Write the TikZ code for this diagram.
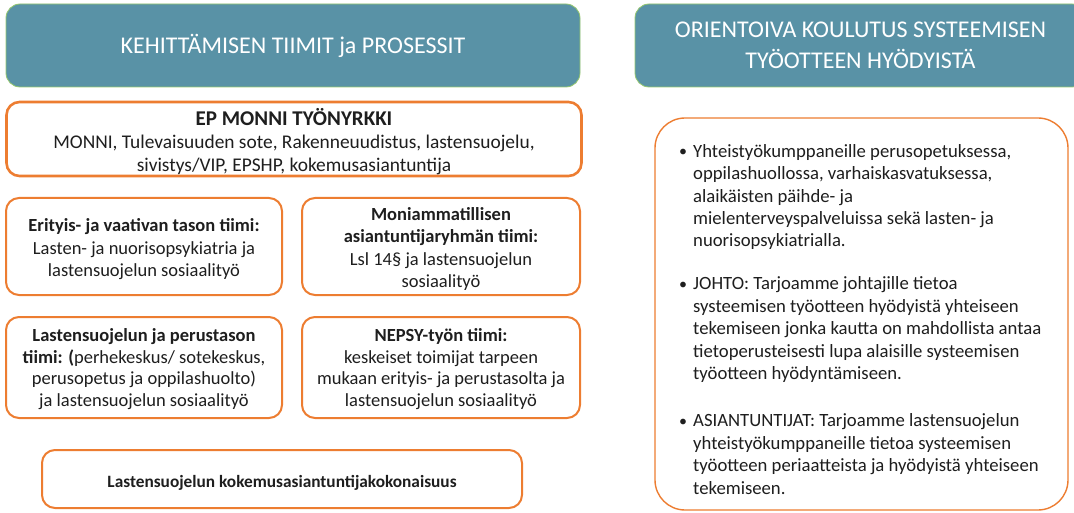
\documentclass[tikz,border=0pt]{standalone}
\usepackage{fontspec}
\setmainfont{Carlito}
\definecolor{hdrteal}{RGB}{89,146,166}
\definecolor{hdrgreen}{RGB}{150,200,110}
\definecolor{orng}{RGB}{237,125,49}
\definecolor{txt}{RGB}{30,30,30}
\newcommand{\upstrut}[1]{\rule{0pt}{#1}}
\newcommand{\bul}{\raisebox{0.5pt}{\fontsize{16}{18}\selectfont\textbullet}}
\tikzset{
  hdr/.style={draw=hdrgreen, line width=0.8pt, fill=hdrteal, rounded corners=14pt,
    text=white, align=center, inner sep=0pt, font=\fontsize{24}{31}\selectfont},
  obox/.style={draw=orng, line width=2pt, fill=white, rounded corners=13pt,
    align=center, inner sep=0pt, text=txt, font=\fontsize{18.5}{22.5}\selectfont},
  btext/.style={anchor=north west, inner sep=0pt, text=txt, align=left,
    font=\fontsize{18.7}{22.4}\selectfont},
}
\begin{document}
\begin{tikzpicture}[x=1pt,y=-1pt]
\useasboundingbox (0,0) rectangle (1074,513);
\clip (0,0) rectangle (1074,513);
% headers
\node[hdr, minimum width=574, minimum height=83] (h1) at (293,45.5)
  {KEHITTÄMISEN TIIMIT ja PROSESSIT};
\node[hdr, minimum width=451, minimum height=83] (h2) at (860.5,45.5)
  {ORIENTOIVA KOULUTUS SYSTEEMISEN\\TYÖOTTEEN HYÖDYISTÄ};
% left boxes
\node[obox, line width=2.6pt, minimum width=575, minimum height=74,
  font=\fontsize{19.4}{22.5}\selectfont] (ep) at (294,139)
  {{\fontsize{21}{25}\selectfont\bfseries\upstrut{22pt}EP MONNI TYÖNYRKKI}\\[1pt]
   MONNI, Tulevaisuuden sote, Rakenneuudistus, lastensuojelu,\\
   sivistys/VIP, EPSHP, kokemusasiantuntija};
\node[obox, minimum width=276, minimum height=97] (eri) at (144,246.5)
  {\upstrut{19pt}\textbf{Erityis- ja vaativan tason tiimi:}\\Lasten- ja nuorisopsykiatria ja\\lastensuojelun sosiaalityö};
\node[obox, minimum width=278, minimum height=97] (mon) at (441,246.5)
  {\upstrut{18pt}\textbf{Moniammatillisen}\\\textbf{asiantuntijaryhmän tiimi:}\\Lsl 14§ ja lastensuojelun\\sosiaalityö};
\node[obox, minimum width=276, minimum height=101, font=\fontsize{18.5}{21.7}\selectfont] (per) at (144,367.5)
  {\upstrut{16pt}\textbf{Lastensuojelun ja perustason}\\\textbf{tiimi: (}perhekeskus/ sotekeskus,\\perusopetus ja oppilashuolto)\\ja lastensuojelun sosiaalityö};
\node[obox, minimum width=278, minimum height=101, font=\fontsize{18.5}{21.7}\selectfont] (nep) at (441,367.5)
  {\upstrut{16pt}\textbf{NEPSY-työn tiimi:}\\keskeiset toimijat tarpeen\\mukaan erityis- ja perustasolta ja\\lastensuojelun sosiaalityö};
\node[obox, minimum width=480, minimum height=58, font=\fontsize{17.3}{20}\selectfont\bfseries] (kok) at (282,479)
  {\upstrut{20pt}Lastensuojelun kokemusasiantuntijakokonaisuus};
% right box
\node[draw=orng, line width=1.4pt, fill=white, rounded corners=30pt,
  minimum width=413, minimum height=392, inner sep=0pt] (rb) at (861.5,314) {};
\node[btext] (b1) at (679,141.5)
  {\begin{tabular}{@{}p{14pt}@{}l@{}}
  \bul & Yhteistyökumppaneille perusopetuksessa,\\
  & oppilashuollossa, varhaiskasvatuksessa,\\
  & alaikäisten päihde- ja\\
  & mielenterveyspalveluissa sekä lasten- ja\\
  & nuorisopsykiatrialla.
  \end{tabular}};
\node[btext] (b2) at (679,274)
  {\begin{tabular}{@{}p{14pt}@{}l@{}}
  \bul & JOHTO: Tarjoamme johtajille tietoa\\
  & systeemisen työotteen hyödyistä yhteiseen\\
  & tekemiseen jonka kautta on mahdollista antaa\\
  & tietoperusteisesti lupa alaisille systeemisen\\
  & työotteen hyödyntämiseen.
  \end{tabular}};
\node[btext] (b3) at (679,411)
  {\begin{tabular}{@{}p{14pt}@{}l@{}}
  \bul & ASIANTUNTIJAT: Tarjoamme lastensuojelun\\
  & yhteistyökumppaneille tietoa systeemisen\\
  & työotteen periaatteista ja hyödyistä yhteiseen\\
  & tekemiseen.
  \end{tabular}};
\end{tikzpicture}
\end{document}
